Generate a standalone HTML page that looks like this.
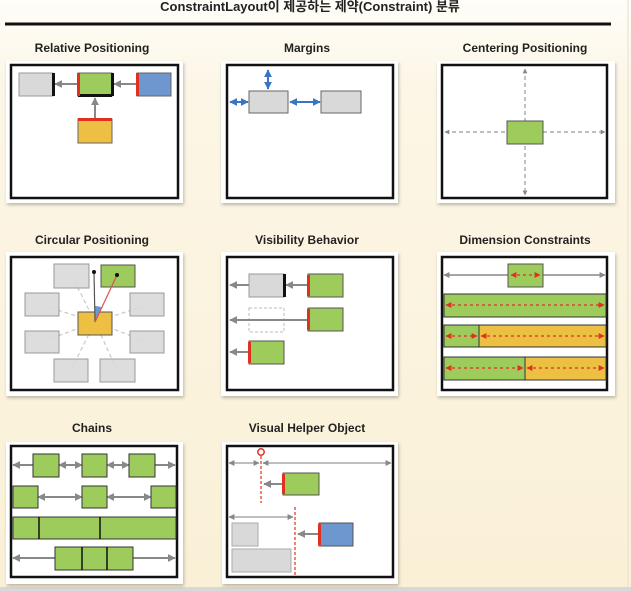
<!DOCTYPE html>
<html><head><meta charset="utf-8"><style>
html,body{margin:0;padding:0;width:631px;height:591px;overflow:hidden;background:#fbf3dd}
svg{display:block}
text{font-family:"Liberation Sans","Noto Sans CJK KR",sans-serif;font-weight:bold;fill:#222}
</style></head><body>
<svg width="631" height="591" viewBox="0 0 631 591" xmlns="http://www.w3.org/2000/svg">
<defs>
<linearGradient id="bg" x1="0" y1="0" x2="0" y2="1"><stop offset="0" stop-color="#fffdf8"/><stop offset="0.15" stop-color="#fcf6e6"/><stop offset="1" stop-color="#faf0d6"/></linearGradient>
<marker id="ga" viewBox="0 0 10 10" refX="9" refY="5" markerWidth="4" markerHeight="4" orient="auto-start-reverse"><path d="M0,0L10,5L0,10z" fill="#888"/></marker>
<marker id="ba" viewBox="0 0 10 10" refX="9" refY="5" markerWidth="4" markerHeight="4" orient="auto-start-reverse"><path d="M0,0L10,5L0,10z" fill="#3a74c4"/></marker>
<marker id="ra" viewBox="0 0 10 10" refX="9" refY="5" markerWidth="5" markerHeight="5" orient="auto-start-reverse"><path d="M0,0L10,5L0,10z" fill="#e03020"/></marker>
<filter id="sh"><feDropShadow dx="1" dy="2" stdDeviation="1.5" flood-color="#000" flood-opacity="0.25"/></filter>
</defs>
<rect width="631" height="591" fill="url(#bg)"/>
<rect x="0" y="587" width="631" height="4" fill="#d8d8d8"/>
<line x1="628" y1="0" x2="628" y2="587" stroke="#e6e0cc"/>
<text x="310" y="11" font-size="13" text-anchor="middle">ConstraintLayout이 제공하는 제약(Constraint) 분류</text>
<rect x="5" y="22.5" width="606" height="3" fill="#111"/>

<g font-size="12" text-anchor="middle">
<text x="92" y="52">Relative  Positioning</text>
<text x="307" y="52">Margins</text>
<text x="525" y="52">Centering  Positioning</text>
<text x="92" y="244">Circular  Positioning</text>
<text x="307" y="244">Visibility Behavior</text>
<text x="525" y="244">Dimension Constraints</text>
<text x="92" y="432">Chains</text>
<text x="307" y="432">Visual Helper  Object</text>
</g>

<!-- cards -->
<g fill="#fff" filter="url(#sh)">
<rect x="6" y="61" width="177" height="142"/>
<rect x="221" y="61" width="177" height="142"/>
<rect x="437" y="61" width="178" height="142"/>
<rect x="6" y="252" width="177" height="144"/>
<rect x="221" y="252" width="177" height="144"/>
<rect x="437" y="252" width="178" height="144"/>
<rect x="6" y="442" width="177" height="142"/>
<rect x="222" y="442" width="176" height="142"/>
</g>
<g fill="none" stroke="#111" stroke-width="2.5">
<rect x="11" y="65" width="167" height="133"/>
<rect x="227" y="65" width="166" height="133"/>
<rect x="442" y="65" width="165" height="133"/>
<rect x="11" y="257" width="167" height="133"/>
<rect x="227" y="257" width="166" height="133"/>
<rect x="442" y="257" width="165" height="133"/>
<rect x="11" y="446" width="166" height="131"/>
<rect x="227" y="446" width="166" height="131"/>
</g>

<!-- Relative -->
<g stroke="#666" stroke-width="1">
<rect x="19" y="73" width="34" height="23" fill="#d9d9d9" stroke="#999"/>
<rect x="78" y="73" width="34" height="23" fill="#9dcb5c"/>
<rect x="137" y="73" width="34" height="23" fill="#6f97cf"/>
<rect x="78" y="119" width="34" height="24" fill="#edc043"/>
</g>
<g stroke="#888" stroke-width="2">
<line x1="78" y1="84" x2="55" y2="84" marker-end="url(#ga)"/>
<line x1="137" y1="84" x2="114" y2="84" marker-end="url(#ga)"/>
<line x1="95" y1="119" x2="95" y2="98" marker-end="url(#ga)"/>
</g>
<rect x="52" y="73" width="3" height="23" fill="#111"/>
<rect x="111" y="73" width="3" height="23" fill="#111"/>
<rect x="78" y="94" width="34" height="3" fill="#111"/>
<rect x="77" y="73" width="3" height="23" fill="#e03020"/>
<rect x="136" y="73" width="3" height="23" fill="#e03020"/>
<rect x="78" y="118" width="34" height="3" fill="#e03020"/>

<!-- Margins -->
<rect x="249" y="91" width="39" height="22" fill="#d9d9d9" stroke="#666"/>
<rect x="321" y="91" width="40" height="22" fill="#d9d9d9" stroke="#666"/>
<g stroke="#3a74c4" stroke-width="2">
<line x1="268" y1="70" x2="268" y2="89" marker-start="url(#ba)" marker-end="url(#ba)"/>
<line x1="230" y1="102" x2="248" y2="102" marker-start="url(#ba)" marker-end="url(#ba)"/>
<line x1="290" y1="102" x2="320" y2="102" marker-start="url(#ba)" marker-end="url(#ba)"/>
</g>

<!-- Centering -->
<g stroke="#999" stroke-width="1.2" stroke-dasharray="4,3">
<line x1="525" y1="69" x2="525" y2="195" marker-start="url(#ga)" marker-end="url(#ga)"/>
<line x1="445" y1="132" x2="605" y2="132" marker-start="url(#ga)" marker-end="url(#ga)"/>
</g>
<rect x="507" y="121" width="36" height="23" fill="#9dcb5c" stroke="#555"/>

<!-- Circular -->
<g stroke="#c8c8c8" stroke-width="1.2" stroke-dasharray="4,3">
<line x1="95" y1="322" x2="72" y2="276"/><line x1="95" y1="322" x2="42" y2="305"/>
<line x1="95" y1="322" x2="147" y2="305"/><line x1="95" y1="322" x2="42" y2="342"/>
<line x1="95" y1="322" x2="147" y2="342"/><line x1="95" y1="322" x2="71" y2="370"/>
<line x1="95" y1="322" x2="117" y2="370"/>
</g>
<g fill="#d9d9d9" stroke="#999" fill-opacity="0.9">
<rect x="54" y="264" width="35" height="24"/>
<rect x="25" y="293" width="34" height="23"/><rect x="130" y="293" width="34" height="23"/>
<rect x="25" y="331" width="34" height="22"/><rect x="130" y="331" width="34" height="22"/>
<rect x="54" y="359" width="34" height="23"/><rect x="100" y="359" width="35" height="23"/>
</g>
<rect x="101" y="265" width="34" height="22" fill="#9dcb5c" stroke="#555"/>
<rect x="78" y="312" width="34" height="23" fill="#edc043" stroke="#555"/>
<path d="M95,322 L95,306 A16,16 0 0 1 102,307.5 Z" fill="#6f97cf"/>
<line x1="94" y1="272" x2="95" y2="322" stroke="#555" stroke-width="1.2"/>
<line x1="95" y1="322" x2="117" y2="275" stroke="#e05050" stroke-width="1.2"/>
<circle cx="94" cy="272" r="2" fill="#111"/><circle cx="117" cy="275" r="2" fill="#111"/>

<!-- Visibility -->
<rect x="249" y="274" width="35" height="23" fill="#d9d9d9" stroke="#999"/>
<rect x="249" y="308" width="35" height="24" fill="none" stroke="#bbb" stroke-dasharray="3,2"/>
<g fill="#9dcb5c" stroke="#555">
<rect x="308" y="274" width="35" height="23"/><rect x="308" y="308" width="35" height="23"/>
<rect x="249" y="341" width="35" height="23"/>
</g>
<g stroke="#888" stroke-width="2">
<line x1="249" y1="285" x2="230" y2="285" marker-end="url(#ga)"/>
<line x1="308" y1="285" x2="286" y2="285" marker-end="url(#ga)"/>
<line x1="308" y1="320" x2="230" y2="320" marker-end="url(#ga)"/>
<line x1="249" y1="352" x2="230" y2="352" marker-end="url(#ga)"/>
</g>
<rect x="283" y="274" width="3" height="23" fill="#111"/>
<rect x="307" y="275" width="3" height="21" fill="#e03020"/>
<rect x="307" y="309" width="3" height="21" fill="#e03020"/>
<rect x="248" y="342" width="3" height="21" fill="#e03020"/>

<!-- Dimension -->
<line x1="444" y1="275" x2="605" y2="275" stroke="#888" stroke-width="1.5" marker-start="url(#ga)" marker-end="url(#ga)"/>
<rect x="508" y="264" width="35" height="23" fill="#9dcb5c" stroke="#555"/>
<g stroke="#333" stroke-width="1">
<rect x="444" y="294" width="162" height="23" fill="#9dcb5c"/>
<rect x="444" y="325" width="35" height="22" fill="#9dcb5c"/><rect x="479" y="325" width="127" height="22" fill="#edc043"/>
<rect x="444" y="357" width="81" height="23" fill="#9dcb5c"/><rect x="525" y="357" width="81" height="23" fill="#edc043"/>
</g>
<g stroke="#e03020" stroke-width="1.2" stroke-dasharray="3,3">
<line x1="511" y1="275" x2="540" y2="275" marker-start="url(#ra)" marker-end="url(#ra)"/>
<line x1="446" y1="305" x2="604" y2="305" marker-start="url(#ra)" marker-end="url(#ra)"/>
<line x1="446" y1="336" x2="477" y2="336" marker-start="url(#ra)" marker-end="url(#ra)"/>
<line x1="481" y1="336" x2="604" y2="336" marker-start="url(#ra)" marker-end="url(#ra)"/>
<line x1="446" y1="368" x2="523" y2="368" marker-start="url(#ra)" marker-end="url(#ra)"/>
<line x1="527" y1="368" x2="604" y2="368" marker-start="url(#ra)" marker-end="url(#ra)"/>
</g>

<!-- Chains -->
<g stroke="#888" stroke-width="2">
<line x1="13" y1="465" x2="33" y2="465" marker-start="url(#ga)"/>
<line x1="59" y1="465" x2="82" y2="465" marker-start="url(#ga)" marker-end="url(#ga)"/>
<line x1="107" y1="465" x2="129" y2="465" marker-start="url(#ga)" marker-end="url(#ga)"/>
<line x1="155" y1="465" x2="175" y2="465" marker-end="url(#ga)"/>
<line x1="38" y1="497" x2="82" y2="497" marker-start="url(#ga)" marker-end="url(#ga)"/>
<line x1="107" y1="497" x2="151" y2="497" marker-start="url(#ga)" marker-end="url(#ga)"/>
<line x1="13" y1="558" x2="55" y2="558" marker-start="url(#ga)"/>
<line x1="133" y1="558" x2="175" y2="558" marker-end="url(#ga)"/>
</g>
<g fill="#9dcb5c" stroke="#333">
<rect x="33" y="454" width="26" height="23"/><rect x="82" y="454" width="25" height="23"/><rect x="129" y="454" width="26" height="23"/>
<rect x="13" y="486" width="25" height="22"/><rect x="82" y="486" width="25" height="22"/><rect x="151" y="486" width="25" height="22"/>
<rect x="13" y="517" width="163" height="22"/>
<rect x="55" y="547" width="78" height="23"/>
</g>
<g stroke="#111" stroke-width="1.5">
<line x1="39" y1="517" x2="39" y2="539"/><line x1="100" y1="517" x2="100" y2="539"/>
<line x1="82" y1="547" x2="82" y2="570"/><line x1="107" y1="547" x2="107" y2="570"/>
</g>

<!-- Visual helper -->
<g stroke="#aaa" stroke-width="1.5">
<line x1="229" y1="463" x2="259" y2="463" marker-start="url(#ga)" marker-end="url(#ga)"/>
<line x1="263" y1="463" x2="391" y2="463" marker-start="url(#ga)" marker-end="url(#ga)"/>
<line x1="229" y1="517" x2="293" y2="517" marker-start="url(#ga)" marker-end="url(#ga)"/>
</g>
<g stroke="#e03020" stroke-width="1.2" stroke-dasharray="3,2">
<line x1="261" y1="456" x2="261" y2="503"/>
<line x1="295" y1="507" x2="295" y2="577"/>
</g>
<circle cx="261" cy="452" r="3.2" fill="#fff" stroke="#e03020" stroke-width="1.5"/>
<rect x="283" y="473" width="36" height="22" fill="#9dcb5c" stroke="#555"/>
<rect x="232" y="523" width="26" height="23" fill="#d9d9d9" stroke="#aaa"/>
<rect x="232" y="549" width="59" height="23" fill="#d9d9d9" stroke="#aaa"/>
<rect x="319" y="523" width="34" height="23" fill="#6f97cf" stroke="#555"/>
<g stroke="#888" stroke-width="2">
<line x1="283" y1="484" x2="264" y2="484" marker-end="url(#ga)"/>
<line x1="319" y1="534" x2="298" y2="534" marker-end="url(#ga)"/>
</g>
<rect x="282" y="474" width="3" height="20" fill="#e03020"/>
<rect x="318" y="524" width="3" height="21" fill="#e03020"/>
</svg>
</body></html>
